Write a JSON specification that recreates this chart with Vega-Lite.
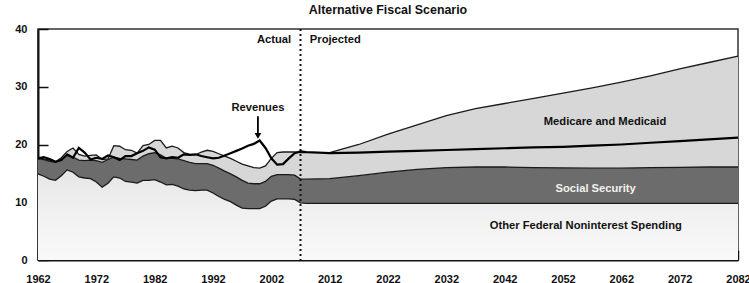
{
  "$schema": "https://vega.github.io/schema/vega-lite/v6.json",
  "width": 700,
  "height": 231,
  "autosize": {"type": "none"},
  "padding": {"left": 38, "top": 29, "right": 11, "bottom": 23},
  "title": {"text": "Alternative Fiscal Scenario", "font": "Liberation Sans, Arial, sans-serif", "fontSize": 12.4, "fontWeight": "bold", "color": "#111", "offset": 7, "anchor": "middle"},
  "config": {
    "view": {"stroke": "#333", "strokeWidth": 1.5},
    "axis": {"grid": false, "domainColor": "#111", "domainWidth": 2, "tickColor": "#111", "tickWidth": 1.5, "tickSize": -10, "labelFont": "Liberation Sans, Arial, sans-serif", "labelFontSize": 11, "labelFontWeight": "bold", "labelColor": "#111"},
    "axisX": {"labelPadding": 23},
    "axisY": {"labelPadding": 21},
    "text": {"font": "Liberation Sans, Arial, sans-serif", "fontWeight": "bold", "fontSize": 11.2}
  },
  "datasets": {
    "series": [
      {"year": 1962, "other": 14.9, "ss": 17.5, "total": 17.8, "rev": 17.6},
      {"year": 1963, "other": 14.5, "ss": 17.4, "total": 17.5, "rev": 17.8},
      {"year": 1964, "other": 14.0, "ss": 17.1, "total": 17.3, "rev": 17.5},
      {"year": 1965, "other": 13.8, "ss": 16.9, "total": 17.0, "rev": 17.0},
      {"year": 1966, "other": 14.6, "ss": 17.4, "total": 17.7, "rev": 17.3},
      {"year": 1967, "other": 15.6, "ss": 18.1, "total": 18.8, "rev": 18.3},
      {"year": 1968, "other": 15.2, "ss": 17.8, "total": 19.4, "rev": 17.7},
      {"year": 1969, "other": 14.4, "ss": 17.3, "total": 18.3, "rev": 19.4},
      {"year": 1970, "other": 14.2, "ss": 17.2, "total": 18.0, "rev": 18.6},
      {"year": 1971, "other": 14.1, "ss": 17.3, "total": 18.1, "rev": 17.4},
      {"year": 1972, "other": 13.5, "ss": 17.2, "total": 18.2, "rev": 17.7},
      {"year": 1973, "other": 12.6, "ss": 16.9, "total": 17.4, "rev": 17.5},
      {"year": 1974, "other": 13.3, "ss": 17.4, "total": 17.5, "rev": 18.1},
      {"year": 1975, "other": 14.4, "ss": 17.8, "total": 19.8, "rev": 17.8},
      {"year": 1976, "other": 14.2, "ss": 17.6, "total": 19.7, "rev": 17.3},
      {"year": 1977, "other": 13.6, "ss": 17.5, "total": 19.1, "rev": 18.0},
      {"year": 1978, "other": 13.5, "ss": 17.4, "total": 19.0, "rev": 18.0},
      {"year": 1979, "other": 13.3, "ss": 17.3, "total": 18.5, "rev": 18.5},
      {"year": 1980, "other": 13.8, "ss": 18.0, "total": 19.8, "rev": 18.9},
      {"year": 1981, "other": 13.8, "ss": 18.4, "total": 20.0, "rev": 19.5},
      {"year": 1982, "other": 13.9, "ss": 18.6, "total": 20.7, "rev": 19.1},
      {"year": 1983, "other": 13.5, "ss": 18.2, "total": 20.7, "rev": 17.8},
      {"year": 1984, "other": 13.0, "ss": 17.6, "total": 19.4, "rev": 17.6},
      {"year": 1985, "other": 13.1, "ss": 17.6, "total": 19.7, "rev": 17.8},
      {"year": 1986, "other": 12.8, "ss": 17.5, "total": 19.4, "rev": 17.7},
      {"year": 1987, "other": 12.3, "ss": 17.2, "total": 18.6, "rev": 18.3},
      {"year": 1988, "other": 12.1, "ss": 16.9, "total": 18.3, "rev": 18.2},
      {"year": 1989, "other": 12.0, "ss": 16.7, "total": 18.2, "rev": 18.3},
      {"year": 1990, "other": 12.1, "ss": 16.7, "total": 18.7, "rev": 18.0},
      {"year": 1991, "other": 12.1, "ss": 16.7, "total": 19.0, "rev": 17.8},
      {"year": 1992, "other": 11.6, "ss": 16.4, "total": 18.8, "rev": 17.6},
      {"year": 1993, "other": 11.0, "ss": 15.9, "total": 18.4, "rev": 17.7},
      {"year": 1994, "other": 10.5, "ss": 15.4, "total": 18.0, "rev": 18.1},
      {"year": 1995, "other": 10.1, "ss": 14.9, "total": 17.6, "rev": 18.5},
      {"year": 1996, "other": 9.5, "ss": 14.4, "total": 17.1, "rev": 18.9},
      {"year": 1997, "other": 9.0, "ss": 13.8, "total": 16.6, "rev": 19.3},
      {"year": 1998, "other": 8.9, "ss": 13.3, "total": 16.3, "rev": 19.8},
      {"year": 1999, "other": 8.9, "ss": 13.2, "total": 16.0, "rev": 20.1},
      {"year": 2000, "other": 8.9, "ss": 13.2, "total": 15.9, "rev": 20.7},
      {"year": 2001, "other": 9.3, "ss": 13.6, "total": 16.3, "rev": 19.4},
      {"year": 2002, "other": 10.2, "ss": 14.5, "total": 17.6, "rev": 17.6},
      {"year": 2003, "other": 10.6, "ss": 14.8, "total": 18.6, "rev": 16.5},
      {"year": 2004, "other": 10.6, "ss": 14.8, "total": 18.7, "rev": 16.6},
      {"year": 2005, "other": 10.6, "ss": 14.8, "total": 18.7, "rev": 17.6},
      {"year": 2006, "other": 10.5, "ss": 14.7, "total": 18.7, "rev": 18.5},
      {"year": 2007, "other": 9.9, "ss": 14.0, "total": 18.6, "rev": 18.8},
      {"year": 2008, "other": 9.8, "ss": 14.0, "total": 18.6, "rev": 18.7},
      {"year": 2012, "other": 9.8, "ss": 14.1, "total": 18.6, "rev": 18.5},
      {"year": 2017, "other": 9.8, "ss": 14.6, "total": 20.0, "rev": 18.6},
      {"year": 2022, "other": 9.8, "ss": 15.2, "total": 21.8, "rev": 18.75},
      {"year": 2027, "other": 9.8, "ss": 15.7, "total": 23.4, "rev": 18.9},
      {"year": 2032, "other": 9.8, "ss": 16.0, "total": 25.0, "rev": 19.05},
      {"year": 2037, "other": 9.8, "ss": 16.1, "total": 26.2, "rev": 19.2},
      {"year": 2042, "other": 9.8, "ss": 16.1, "total": 27.1, "rev": 19.35},
      {"year": 2047, "other": 9.8, "ss": 16.0, "total": 28.0, "rev": 19.5},
      {"year": 2052, "other": 9.8, "ss": 15.95, "total": 28.9, "rev": 19.6},
      {"year": 2057, "other": 9.8, "ss": 15.9, "total": 29.8, "rev": 19.8},
      {"year": 2062, "other": 9.8, "ss": 15.9, "total": 30.8, "rev": 20.0},
      {"year": 2067, "other": 9.8, "ss": 16.0, "total": 31.9, "rev": 20.3},
      {"year": 2072, "other": 9.8, "ss": 16.05, "total": 33.1, "rev": 20.6},
      {"year": 2077, "other": 9.8, "ss": 16.1, "total": 34.2, "rev": 20.9},
      {"year": 2082, "other": 9.8, "ss": 16.1, "total": 35.3, "rev": 21.2}
    ],
    "labels": [
      {"label": "Medicare and Medicaid", "year": 2059.2, "value": 23.9, "kind": "dark"},
      {"label": "Social Security", "year": 2057.6, "value": 12.3, "kind": "light"},
      {"label": "Other Federal Noninterest Spending", "year": 2055.9, "value": 5.9, "kind": "dark"},
      {"label": "Revenues", "year": 1999.7, "value": 26.3, "kind": "dark"}
    ]
  },
  "layer": [
    {
      "data": {"name": "series"},
      "mark": {"type": "area", "color": {"gradient": "linear", "x1": 0, "y1": 0, "x2": 0, "y2": 1, "stops": [{"offset": 0, "color": "#e6e6e6"}, {"offset": 0.5, "color": "#f1f1f1"}, {"offset": 1, "color": "#f9f9f9"}]}},
      "encoding": {
        "x": {"field": "year", "type": "quantitative", "title": null, "scale": {"domain": [1962, 2082], "nice": false, "zero": false}, "axis": {"values": [1962, 1972, 1982, 1992, 2002, 2012, 2022, 2032, 2042, 2052, 2062, 2072, 2082], "format": "d", "labelFlush": false}},
        "y": {"field": "other", "type": "quantitative", "title": null, "scale": {"domain": [0, 40], "nice": false}, "axis": {"values": [0, 10, 20, 30, 40]}}
      }
    },
    {
      "data": {"name": "series"},
      "mark": {"type": "area", "color": "#6c6c6c"},
      "encoding": {
        "x": {"field": "year", "type": "quantitative", "title": null},
        "y": {"field": "ss", "type": "quantitative", "title": null},
        "y2": {"field": "other"}
      }
    },
    {
      "data": {"name": "series"},
      "mark": {"type": "area", "color": "#d7d7d7"},
      "encoding": {
        "x": {"field": "year", "type": "quantitative", "title": null},
        "y": {"field": "total", "type": "quantitative", "title": null},
        "y2": {"field": "ss"}
      }
    },
    {
      "data": {"name": "series"},
      "mark": {"type": "line", "color": "#1a1a1a", "strokeWidth": 1.3},
      "encoding": {
        "x": {"field": "year", "type": "quantitative", "title": null},
        "y": {"field": "other", "type": "quantitative", "title": null}
      }
    },
    {
      "data": {"name": "series"},
      "mark": {"type": "line", "color": "#1a1a1a", "strokeWidth": 1.3},
      "encoding": {
        "x": {"field": "year", "type": "quantitative", "title": null},
        "y": {"field": "ss", "type": "quantitative", "title": null}
      }
    },
    {
      "data": {"name": "series"},
      "mark": {"type": "line", "color": "#1a1a1a", "strokeWidth": 1.3},
      "encoding": {
        "x": {"field": "year", "type": "quantitative", "title": null},
        "y": {"field": "total", "type": "quantitative", "title": null}
      }
    },
    {
      "data": {"name": "series"},
      "mark": {"type": "line", "color": "#000", "strokeWidth": 2.2},
      "encoding": {
        "x": {"field": "year", "type": "quantitative", "title": null},
        "y": {"field": "rev", "type": "quantitative", "title": null}
      }
    },
    {
      "data": {"values": [{"year": 2007}]},
      "mark": {"type": "rule", "color": "#111", "strokeWidth": 2, "strokeDash": [2, 3]},
      "encoding": {
        "x": {"field": "year", "type": "quantitative", "title": null}
      }
    },
    {
      "data": {"values": [{"year": 1999.7, "from": 24.9, "to": 21.6}]},
      "mark": {"type": "rule", "color": "#000", "strokeWidth": 1.8},
      "encoding": {
        "x": {"field": "year", "type": "quantitative", "title": null},
        "y": {"field": "from", "type": "quantitative", "title": null},
        "y2": {"field": "to"}
      }
    },
    {
      "data": {"values": [{"year": 1999.7, "tip": 21.5}]},
      "mark": {"type": "point", "shape": "triangle-down", "filled": true, "color": "#000", "size": 45, "opacity": 1},
      "encoding": {
        "x": {"field": "year", "type": "quantitative", "title": null},
        "y": {"field": "tip", "type": "quantitative", "title": null}
      }
    },
    {
      "data": {"name": "labels"},
      "mark": {"type": "text", "align": "center", "baseline": "middle"},
      "encoding": {
        "x": {"field": "year", "type": "quantitative", "title": null},
        "y": {"field": "value", "type": "quantitative", "title": null},
        "text": {"field": "label"},
        "color": {"field": "kind", "type": "nominal", "scale": {"domain": ["dark", "light"], "range": ["#111111", "#f2f2f2"]}, "legend": null}
      }
    },
    {
      "data": {"values": [{"label": "Actual", "year": 2005.4, "value": 38.1}]},
      "mark": {"type": "text", "align": "right", "baseline": "middle", "color": "#111"},
      "encoding": {
        "x": {"field": "year", "type": "quantitative", "title": null},
        "y": {"field": "value", "type": "quantitative", "title": null},
        "text": {"field": "label"}
      }
    },
    {
      "data": {"values": [{"label": "Projected", "year": 2008.6, "value": 38.1}]},
      "mark": {"type": "text", "align": "left", "baseline": "middle", "color": "#111"},
      "encoding": {
        "x": {"field": "year", "type": "quantitative", "title": null},
        "y": {"field": "value", "type": "quantitative", "title": null},
        "text": {"field": "label"}
      }
    }
  ]
}
